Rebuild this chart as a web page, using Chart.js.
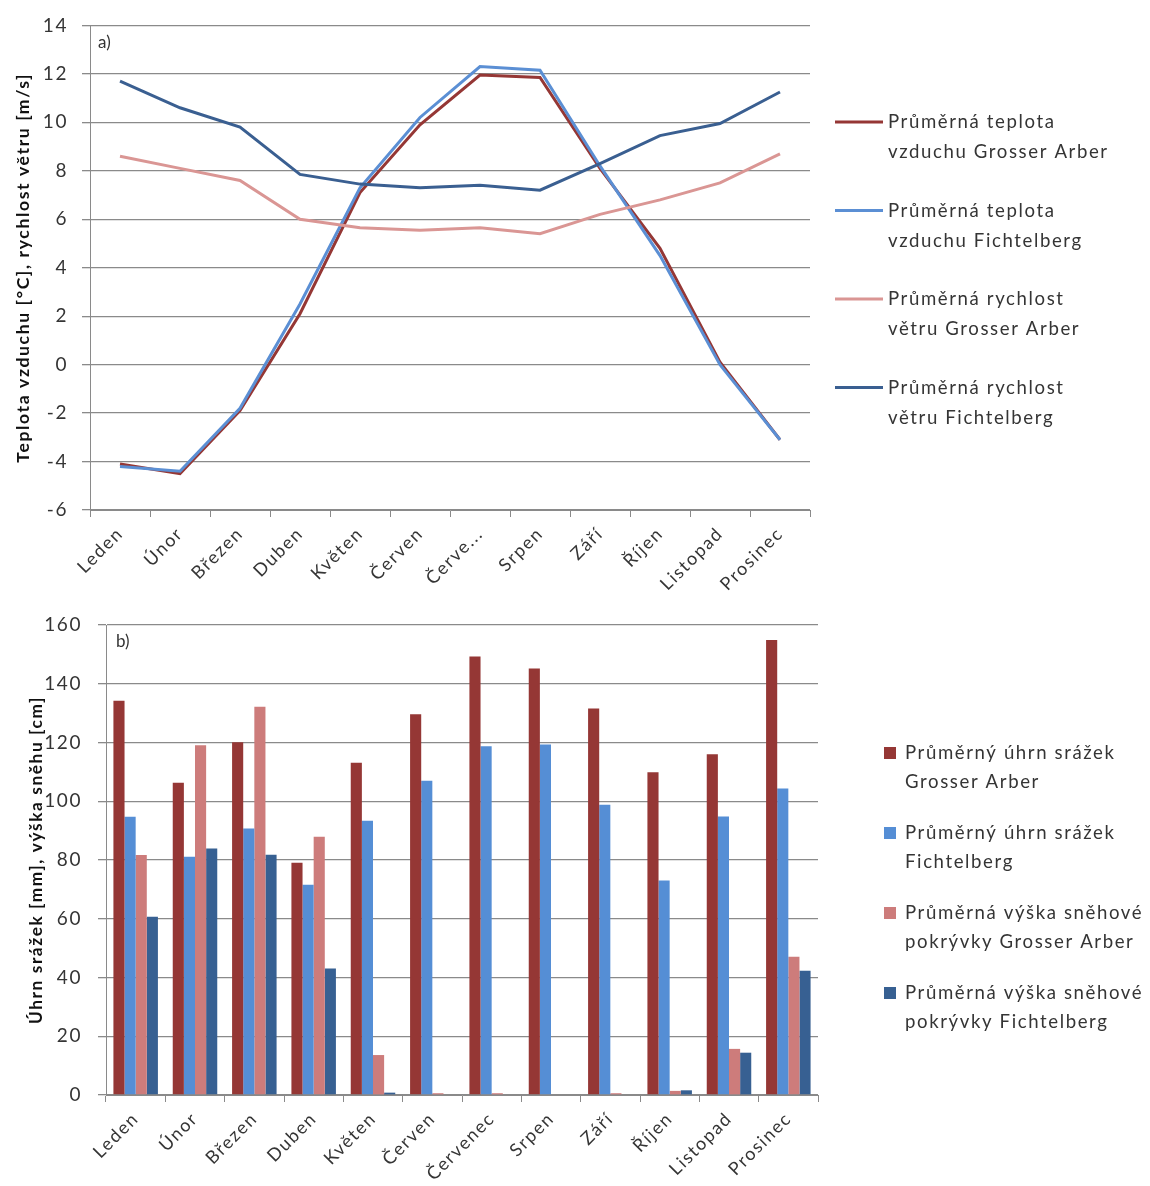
<!DOCTYPE html>
<html>
<head>
<meta charset="utf-8">
<script src="https://cdn.jsdelivr.net/npm/chart.js@4.4.0/dist/chart.umd.min.js"></script>
<style>
  html, body { margin: 0; padding: 0; background: #ffffff; }
  #wrap { position: relative; width: 1150px; height: 1186px; overflow: hidden; }
  canvas { position: absolute; left: 0; }
  #c1 { top: 0; }
  #c2 { top: 595px; }
</style>
</head>
<body>
<div id="wrap">
  <canvas id="c1" width="1150" height="595"></canvas>
  <canvas id="c2" width="1150" height="591"></canvas>
</div>
<script>
// Months (bottom chart labels) and the shortened labels used on the upper chart
const months = ['Leden', 'Únor', 'Březen', 'Duben', 'Květen', 'Červen', 'Červenec', 'Srpen', 'Září', 'Říjen', 'Listopad', 'Prosinec'];
const topTickLabels = ['Leden', 'Únor', 'Březen', 'Duben', 'Květen', 'Červen', 'Červe...', 'Srpen', 'Září', 'Říjen', 'Listopad', 'Prosinec'];

// a) mean air temperature [°C] and mean wind speed [m/s]
const tempArber       = [-4.1, -4.5, -1.9, 2.1, 7.1, 9.9, 11.95, 11.85, 8.1, 4.8, 0.1, -3.1];
const tempFichtelberg = [-4.2, -4.4, -1.8, 2.5, 7.3, 10.2, 12.3, 12.15, 8.2, 4.5, 0.0, -3.1];
const windArber       = [8.6, 8.1, 7.6, 6.0, 5.65, 5.55, 5.65, 5.4, 6.2, 6.8, 7.5, 8.7];
const windFichtelberg = [11.7, 10.6, 9.8, 7.85, 7.45, 7.3, 7.4, 7.2, 8.3, 9.45, 9.95, 11.25];

// b) mean precipitation [mm] and mean snow depth [cm]
const precipArber       = [134.2, 106.3, 120.1, 79.1, 113.1, 129.6, 149.3, 145.2, 131.6, 109.9, 116.0, 154.9];
const precipFichtelberg = [94.7, 81.1, 90.7, 71.6, 93.4, 107.0, 118.7, 119.3, 98.8, 73.0, 94.8, 104.3];
const snowArber         = [81.7, 119.1, 132.2, 87.9, 13.6, 0.6, 0.6, 0, 0.6, 1.4, 15.7, 47.1];
const snowFichtelberg   = [60.7, 83.9, 81.8, 43.1, 0.8, 0, 0, 0, 0, 1.6, 14.4, 42.3];

// Series names (line breaks as in the legend)
const lineNames = [
  'Průměrná teplota\nvzduchu Grosser Arber',
  'Průměrná teplota\nvzduchu Fichtelberg',
  'Průměrná rychlost\nvětru Grosser Arber',
  'Průměrná rychlost\nvětru Fichtelberg'
];
const barNames = [
  'Průměrný úhrn srážek\nGrosser Arber',
  'Průměrný úhrn srážek\nFichtelberg',
  'Průměrná výška sněhové\npokrývky Grosser Arber',
  'Průměrná výška sněhové\npokrývky Fichtelberg'
];

const FONT = 'Lato, "Open Sans", sans-serif';
const TEXT = '#353535';
const GRID = '#8a8a8a';
const SPACING = '1.6px';

Chart.defaults.font.family = FONT;
Chart.defaults.color = TEXT;

// Slightly spaced lettering for all canvas text
const letterSpacing = {
  id: 'letterSpacing',
  beforeUpdate(chart) { chart.ctx.letterSpacing = SPACING; },
  beforeDraw(chart) { chart.ctx.letterSpacing = SPACING; }
};

// Legend drawn to the right of the plot, with wrapped names
const sideLegend = {
  id: 'sideLegend',
  afterDraw(chart, args, o) {
    const ctx = chart.ctx;
    ctx.save();
    ctx.letterSpacing = SPACING;
    ctx.font = o.font;
    ctx.textBaseline = 'middle';
    ctx.textAlign = 'left';
    chart.data.datasets.forEach((ds, i) => {
      const y = o.top + i * o.gap;
      if (o.kind === 'line') {
        ctx.strokeStyle = ds.borderColor;
        ctx.lineWidth = 3;
        ctx.beginPath();
        ctx.moveTo(o.x, y);
        ctx.lineTo(o.x + o.symbol, y);
        ctx.stroke();
      } else {
        ctx.fillStyle = ds.backgroundColor;
        ctx.fillRect(o.x, y - o.symbol / 2, o.symbol, o.symbol);
      }
      ctx.fillStyle = TEXT;
      ds.label.split('\n').forEach((t, j) => ctx.fillText(t, o.textX, y + j * o.lineH));
    });
    ctx.restore();
  }
};

// Panel letter in the upper-left corner of the plot
const panelTag = {
  id: 'panelTag',
  afterDraw(chart, args, o) {
    const ctx = chart.ctx;
    const a = chart.chartArea;
    ctx.save();
    ctx.letterSpacing = '0px';
    ctx.font = '17px ' + FONT;
    ctx.fillStyle = '#333';
    ctx.textBaseline = 'middle';
    ctx.fillText(o.text, a.left + o.dx, a.top + o.dy);
    ctx.restore();
  }
};

function fixWidth(w) { return s => { s.width = w; }; }
function fixHeight(h) { return s => { s.height = h; }; }

// ---------- a) line chart ----------
const lineColors = ['#953735', '#5B8FD4', '#DA9694', '#3A5F91'];
new Chart(document.getElementById('c1'), {
  type: 'line',
  data: {
    labels: topTickLabels,
    datasets: [tempArber, tempFichtelberg, windArber, windFichtelberg].map((d, i) => ({
      label: lineNames[i],
      data: d,
      borderColor: lineColors[i],
      backgroundColor: lineColors[i],
      borderWidth: 3,
      pointRadius: 0,
      tension: 0,
      order: 3 - i
    }))
  },
  options: {
    responsive: false,
    animation: false,
    layout: { padding: { left: 0, right: 340, top: 23, bottom: 0 } },
    plugins: {
      legend: { display: false },
      tooltip: { enabled: false },
      sideLegend: { kind: 'line', x: 835, symbol: 48, textX: 888, top: 122, gap: 88.5, lineH: 30, font: '18.6px ' + FONT },
      panelTag: { text: 'a)', dx: 8, dy: 17 }
    },
    scales: {
      x: {
        offset: true,
        afterFit: fixHeight(85),
        grid: { display: true, drawOnChartArea: false, offset: true, tickLength: 7, color: GRID },
        border: { color: GRID },
        ticks: { minRotation: 45, maxRotation: 45, autoSkip: false, padding: 6, font: { size: 18 }, color: TEXT }
      },
      y: {
        min: -6, max: 14,
        afterFit: fixWidth(90),
        ticks: { stepSize: 2, padding: 14, font: { size: 19 }, color: TEXT },
        grid: { color: GRID, tickLength: 8, lineWidth: 1.3 },
        border: { color: GRID },
        title: {
          display: true,
          text: 'Teplota vzduchu [°C], rychlost větru [m/s]',
          font: { size: 17.6, weight: 'bold' },
          color: '#111',
          padding: { top: 13, bottom: 0 }
        }
      }
    }
  },
  plugins: [letterSpacing, sideLegend, panelTag]
});

// ---------- b) bar chart ----------
const barColors = ['#953735', '#558ED5', '#CD7C7B', '#376092'];
new Chart(document.getElementById('c2'), {
  type: 'bar',
  data: {
    labels: months,
    datasets: [precipArber, precipFichtelberg, snowArber, snowFichtelberg].map((d, i) => ({
      label: barNames[i],
      data: d,
      backgroundColor: barColors[i],
      borderWidth: 0,
      categoryPercentage: 0.75,
      barPercentage: 1.0
    }))
  },
  options: {
    responsive: false,
    animation: false,
    layout: { padding: { left: 0, right: 332, top: 30, bottom: 0 } },
    plugins: {
      legend: { display: false },
      tooltip: { enabled: false },
      sideLegend: { kind: 'bar', x: 884, symbol: 12, textX: 905, top: 158, gap: 80, lineH: 29, font: '18.6px ' + FONT },
      panelTag: { text: 'b)', dx: 10, dy: 17 }
    },
    scales: {
      x: {
        afterFit: fixHeight(91),
        grid: { display: true, drawOnChartArea: false, offset: true, tickLength: 7, color: GRID },
        border: { color: GRID },
        ticks: { minRotation: 45, maxRotation: 45, autoSkip: false, padding: 6, font: { size: 18 }, color: TEXT }
      },
      y: {
        min: 0, max: 160,
        afterFit: fixWidth(106),
        ticks: { stepSize: 20, padding: 16, font: { size: 19 }, color: TEXT },
        grid: { color: GRID, tickLength: 8, lineWidth: 1.3 },
        border: { color: GRID },
        title: {
          display: true,
          text: 'Úhrn srážek [mm], výška sněhu [cm]',
          font: { size: 17.3, weight: 'bold' },
          color: '#111',
          padding: { top: 26, bottom: 0 }
        }
      }
    }
  },
  plugins: [letterSpacing, sideLegend, panelTag]
});
</script>
</body>
</html>
